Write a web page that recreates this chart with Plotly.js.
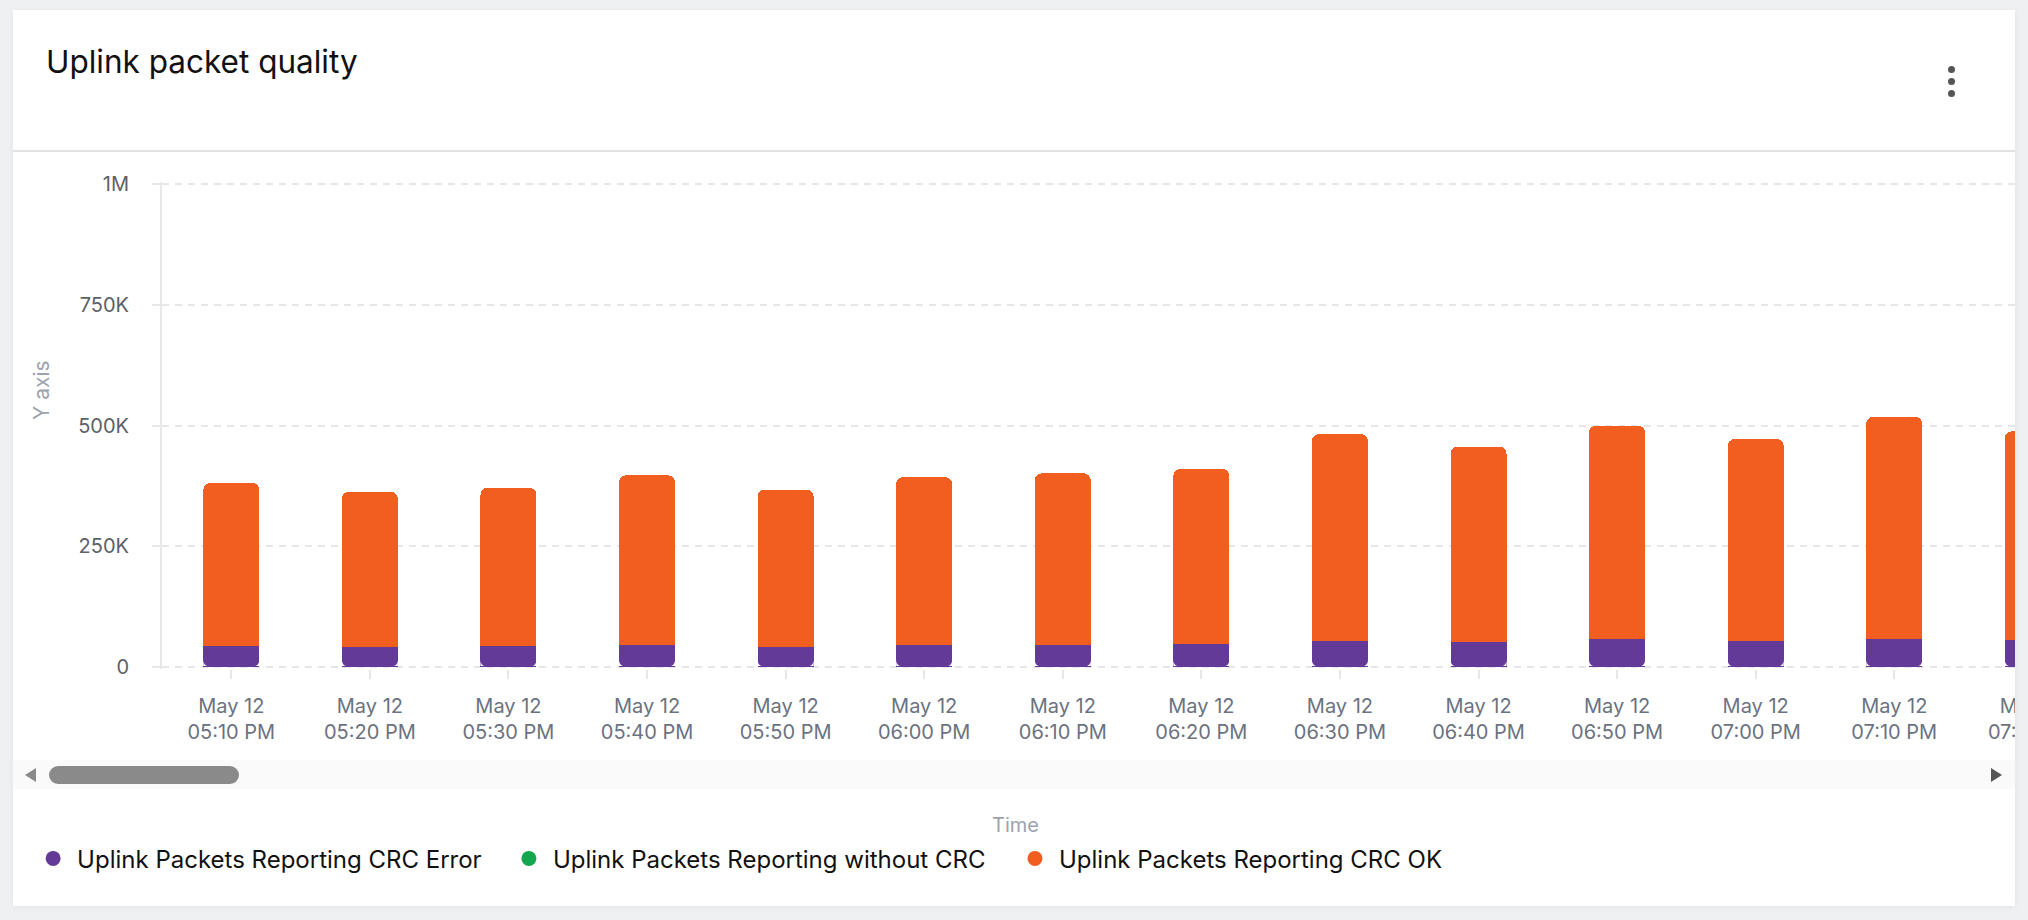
<!DOCTYPE html>
<html>
<head>
<meta charset="utf-8">
<script src="https://cdn.plot.ly/plotly-3.0.1.min.js"></script>
<style>
  html, body { margin:0; padding:0; }
  body { width:2028px; height:920px; overflow:hidden; background:#eff0f2; font-family:Inter, sans-serif; position:relative; }
  .abs { position:absolute; }
  #card { left:13px; top:10px; width:2002px; height:896px; background:#fff; box-shadow:0 1px 6px rgba(0,0,0,0.06); }
  #divider { left:13px; top:150px; width:2002px; height:2px; background:#e1e1e1; }
  #track { left:13px; top:760px; width:2002px; height:29px; background:#fafafa; }
  #thumb { left:49px; top:766px; width:190px; height:18px; border-radius:9px; background:#8a8a8a; }
  #arrowL { left:25px; top:768px; width:0; height:0; border-top:7.5px solid transparent; border-bottom:7.5px solid transparent; border-right:11px solid #8a8a8a; }
  #arrowR { left:1991px; top:768px; width:0; height:0; border-top:7.5px solid transparent; border-bottom:7.5px solid transparent; border-left:11px solid #555; }
  .dot { width:7px; height:7px; border-radius:50%; background:#555; left:1948px; }
  #clip { left:0; top:0; width:2015px; height:920px; overflow:hidden; }
</style>
</head>
<body>
<div id="card" class="abs"></div>
<div id="divider" class="abs"></div>
<div id="track" class="abs"></div>
<div id="thumb" class="abs"></div>
<div id="arrowL" class="abs"></div>
<div id="arrowR" class="abs"></div>
<div class="abs dot" style="top:66px"></div>
<div class="abs dot" style="top:78px"></div>
<div class="abs dot" style="top:90px"></div>
<div id="clip" class="abs"><div id="chart"></div></div>
<script>
// ---- data ----
const times = [
  '2024-05-12 17:10', '2024-05-12 17:20', '2024-05-12 17:30', '2024-05-12 17:40',
  '2024-05-12 17:50', '2024-05-12 18:00', '2024-05-12 18:10', '2024-05-12 18:20',
  '2024-05-12 18:30', '2024-05-12 18:40', '2024-05-12 18:50', '2024-05-12 19:00',
  '2024-05-12 19:10', '2024-05-12 19:20'
];
const crcError   = [44000, 42000, 43000, 46000, 42000, 46000, 46000, 47000, 54000, 52000, 57000, 53000, 58000, 55000];
const withoutCrc = [0, 0, 0, 0, 0, 0, 0, 0, 0, 0, 0, 0, 0, 0];
const crcOk      = [337000, 321000, 328000, 351000, 325000, 347000, 355000, 363000, 428000, 404000, 443000, 419000, 460000, 433000];
const seriesNames = ['Uplink Packets Reporting CRC Error', 'Uplink Packets Reporting without CRC', 'Uplink Packets Reporting CRC OK'];
const yTickVals = [0, 250000, 500000, 750000, 1000000];
const yTickText = ['0', '250K', '500K', '750K', '1M'];

// ---- style ----
const colors = ['#633a97', '#13a64f', '#f15e1f'];
const W = 2330, H = 920, PW = 2148;
const BAR_HALF = 28, RADIUS = 7;

const seriesData = [crcError, withoutCrc, crcOk];
const traces = [];
seriesData.forEach((vals, i) => {
  traces.push({
    type: 'bar', x: times, y: vals, name: seriesNames[i],
    marker: { color: colors[i], line: { width: 0 } },
    showlegend: false, hoverinfo: 'skip'
  });
});
const legendIds = ['legend', 'legend2', 'legend3'];
seriesNames.forEach((nm, i) => {
  traces.push({
    type: 'scatter', mode: 'markers', x: [null], y: [null], name: nm,
    marker: { color: colors[i], size: 15, symbol: 'circle' },
    showlegend: true, legend: legendIds[i], hoverinfo: 'skip'
  });
});

// rounded lower corners of each stack: small white corner masks (pixel-sized, anchored at the bar base)
function cornerPath(side) {
  const steps = 8;
  let d = 'M' + (side * BAR_HALF) + ',1 L' + (side * BAR_HALF) + ',' + RADIUS;
  for (let k = 1; k <= steps; k++) {
    const a = Math.PI / 2 * k / steps;
    const x = side * (BAR_HALF - RADIUS) + side * RADIUS * Math.cos(a);
    const y = Math.max(1, RADIUS - RADIUS * Math.sin(a));
    d += ' L' + x.toFixed(2) + ',' + y.toFixed(2);
  }
  return d + ' Z';
}
const shapes = [];
times.forEach(t => {
  [-1, 1].forEach(side => {
    shapes.push({
      type: 'path', xref: 'x', yref: 'y', xsizemode: 'pixel', ysizemode: 'pixel',
      xanchor: t, yanchor: 0, path: cornerPath(side),
      fillcolor: '#ffffff', line: { width: 0 }, layer: 'above'
    });
  });
});

const legendBase = {
  orientation: 'h', xanchor: 'left', yanchor: 'middle', y: -0.3897,
  itemwidth: 38,
  font: { family: 'Inter', size: 24, color: '#111111' },
  bgcolor: 'rgba(0,0,0,0)', borderwidth: 0, itemclick: false, itemdoubleclick: false
};

const layout = {
  width: W, height: H,
  margin: { l: 162, r: 20, t: 182, b: 251 },
  paper_bgcolor: 'rgba(0,0,0,0)', plot_bgcolor: 'rgba(0,0,0,0)',
  font: { family: 'Inter, sans-serif' },
  title: {
    text: 'Uplink packet quality',
    font: { family: 'Inter', size: 31.5, color: '#111111' },
    xref: 'container', x: 46 / W, xanchor: 'left',
    yref: 'container', y: 1 - 62 / H, yanchor: 'middle'
  },
  barmode: 'stack', bargap: 0.596, barcornerradius: RADIUS,
  xaxis: {
    type: 'date', range: ['2024-05-12 17:05', '2024-05-12 19:40'],
    tick0: '2024-05-12 17:10', dtick: 600000, tickformat: '%b %d<br>%I:%M %p',
    ticks: 'outside', ticklen: 9, tickwidth: 2, tickcolor: '#e6e6e6',
    showgrid: false, showline: false, zeroline: false,
    tickfont: { family: 'Inter', size: 20, color: '#6b7280' },
    ticklabelstandoff: 10, fixedrange: true
  },
  yaxis: {
    range: [-4140, 1004140], tickvals: yTickVals, ticktext: yTickText,
    showgrid: true, gridcolor: '#e6e6e6', gridwidth: 2, griddash: '7px,6px',
    zeroline: false, showline: true, linecolor: '#e8e8e8', linewidth: 2,
    ticks: 'outside', ticklen: 8, tickwidth: 2, tickcolor: '#e8e8e8',
    tickfont: { family: 'Inter', size: 20, color: '#5c6168' },
    ticklabelstandoff: 19, fixedrange: true
  },
  legend: Object.assign({}, legendBase, { x: -0.06 - 4 / PW }),
  legend2: Object.assign({}, legendBase, { x: 0.1615 - 4 / PW }),
  legend3: Object.assign({}, legendBase, { x: 0.3971 - 4 / PW }),
  shapes: shapes,
  annotations: [
    { text: 'Y axis', xref: 'paper', yref: 'paper', x: (41 - 162) / PW, y: (669 - 390) / 487,
      textangle: -90, showarrow: false, xanchor: 'center', yanchor: 'middle',
      font: { family: 'Inter', size: 21, color: '#9ca3af' } },
    { text: 'Time', xref: 'paper', yref: 'paper', x: (1015 - 162) / PW, y: (669 - 825) / 487,
      showarrow: false, xanchor: 'center', yanchor: 'middle',
      font: { family: 'Inter', size: 20, color: '#9ca3af' } }
  ]
};

Plotly.newPlot('chart', traces, layout, { displayModeBar: false, staticPlot: true });
</script>
</body>
</html>
